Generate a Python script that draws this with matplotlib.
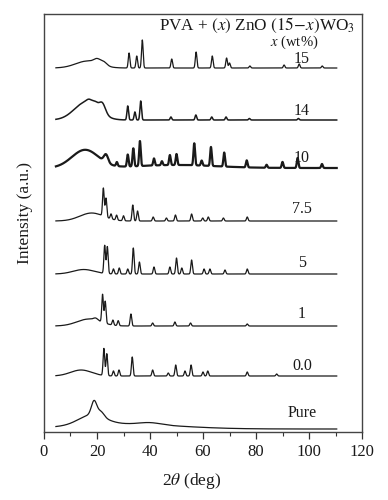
import numpy as np
import matplotlib
matplotlib.use("Agg")
import matplotlib.pyplot as plt

plt.rcParams['font.family'] = ['Liberation Serif', 'DejaVu Serif']
plt.rcParams['mathtext.fontset'] = 'stix'

# ---- data ----
labels = ["15", "14", "10", "7.5", "5", "1", "0.0", "Pure"]
offsets = [364, 312, 264, 211, 158, 106, 56, 3]

# sharp peaks: (2theta, height)
peaks_15 = [(32.1, 15), (35.0, 12), (37.1, 28), (48.2, 9), (57.4, 16), (63.5, 12),
            (68.9, 10), (70.0, 5), (77.7, 2), (90.6, 3), (96.3, 4), (105.0, 2)]
peaks_14 = [(31.6, 14), (34.3, 8), (36.5, 19), (47.9, 3), (57.3, 5), (63.3, 3),
            (68.7, 3), (77.5, 1.5), (96.0, 1.5)]
peaks_10 = [(31.6, 12), (33.7, 18), (36.2, 25), (41.5, 7), (47.5, 10), (50.0, 11),
            (56.7, 22), (63.0, 19), (68.0, 14), (76.5, 7), (90.0, 6), (95.7, 10),
            (104.9, 4), (27.5, 4), (44.5, 4), (59.5, 5), (84.0, 3)]
peaks_75 = [(22.4, 28), (23.4, 19), (25.3, 5), (27.4, 5), (30.0, 5), (33.5, 16),
            (35.3, 10), (41.2, 4), (46.2, 3), (49.6, 6), (55.7, 7), (59.9, 3),
            (62.0, 4), (67.7, 3), (76.7, 4)]
peaks_5 = [(22.9, 28), (23.9, 27), (26.2, 5), (28.4, 6), (31.6, 5), (33.7, 26),
           (36.0, 12), (41.5, 7), (47.5, 7), (50.0, 16), (52.0, 6), (55.7, 14),
           (60.4, 5), (62.6, 5), (68.3, 4), (76.7, 5)]
peaks_1 = [(22.1, 28), (23.1, 22), (26.0, 5), (28.0, 5), (32.8, 12), (41.0, 3),
           (49.4, 4), (55.3, 3), (76.7, 2)]
peaks_00 = [(22.6, 27), (23.7, 22), (26.2, 5), (28.3, 6), (33.3, 19), (41.0, 6),
            (46.9, 3), (49.7, 11), (53.2, 5), (55.5, 11), (60.0, 4), (61.8, 5),
            (76.7, 4), (87.8, 2)]
peaks_pure = []

# broad amorphous humps: (2theta, height, width)
humps_15 = [(16.5, 7, 4.5), (20.0, 4, 1.2), (22.5, 3.5, 1.2)]
humps_14 = [(16.0, 18, 4.5), (19.3, 4, 1.0), (22.0, 10, 1.2), (17.0, 3, 1.0)]
humps_10 = [(15.5, 18, 5.0), (23.4, 8, 0.8), (50.0, 3, 15.0)]
humps_75 = [(18.0, 8, 4.5)]
humps_5 = [(15.0, 4.5, 4.0)]
humps_1 = [(17.0, 7, 4.5), (19.5, 2, 0.8)]
humps_00 = [(14.0, 6, 4.0)]
humps_pure = [(18.0, 10, 5.0), (30.0, 5, 20.0), (18.9, 14, 1.0), (21.5, 5, 1.2), (40.0, 2, 4.0)]

all_peaks = [peaks_15, peaks_14, peaks_10, peaks_75, peaks_5, peaks_1, peaks_00, peaks_pure]
all_humps = [humps_15, humps_14, humps_10, humps_75, humps_5, humps_1, humps_00, humps_pure]

# styling (not data)
linewidths = [0.9, 1.1, 1.6, 0.9, 0.9, 0.9, 0.9, 0.9]
label_gaps = [5, 5, 6, 8, 7, 8, 6, 12]

theta = np.arange(4.5, 110.5, 0.05)

fig = plt.figure(figsize=(3.88, 5.0), dpi=100)
ax = fig.add_axes([0.1134, 0.136, 0.8196, 0.836])

for lab, off, pk, hm, lw, gap in zip(labels, offsets, all_peaks, all_humps, linewidths, label_gaps):
    y = np.full_like(theta, float(off))
    for c, h, w in hm:
        y += h * np.exp(-0.5 * ((theta - c) / w) ** 2)
    for c, h in pk:
        y += h * np.exp(-0.5 * ((theta - c) / 0.3) ** 2)
    ax.plot(theta, y, color='#1a1a1a', lw=lw)
    ax.text(97.4, off + gap, lab, ha='center', va='baseline', fontsize=11.5, color='#1a1a1a')

ax.text(80.4, 402, r"PVA + $(x)$ ZnO $(15\!-\!x)$WO$_3$", ha='center', va='baseline',
        fontsize=12.3, color='#1a1a1a')
ax.text(94.5, 386, r"$x$ (wt%)", ha='center', va='baseline', fontsize=10.5, color='#1a1a1a')

ax.set_xlim(0, 120)
ax.set_ylim(0, 418)
ax.set_xticks(np.arange(0, 121, 20))
ax.set_xticks(np.arange(10, 120, 20), minor=True)
ax.set_yticks([])
ax.tick_params(axis='x', which='major', direction='out', length=5, width=0.9,
               labelsize=12, colors='#333333', labelcolor='#1a1a1a', pad=4)
ax.tick_params(axis='x', which='minor', direction='out', length=3, width=0.8, colors='#333333')
for s in ax.spines.values():
    s.set_color('#444444')
    s.set_linewidth(1.0)

ax.set_xlabel(r"2$\theta$ (deg)", fontsize=12.5, color='#1a1a1a')
ax.xaxis.set_label_coords(0.465, -0.094)
ax.set_ylabel("Intensity (a.u.)", fontsize=12.5, color='#1a1a1a')
ax.yaxis.set_label_coords(-0.036, 0.524)

fig.savefig("out.png", dpi=100)
